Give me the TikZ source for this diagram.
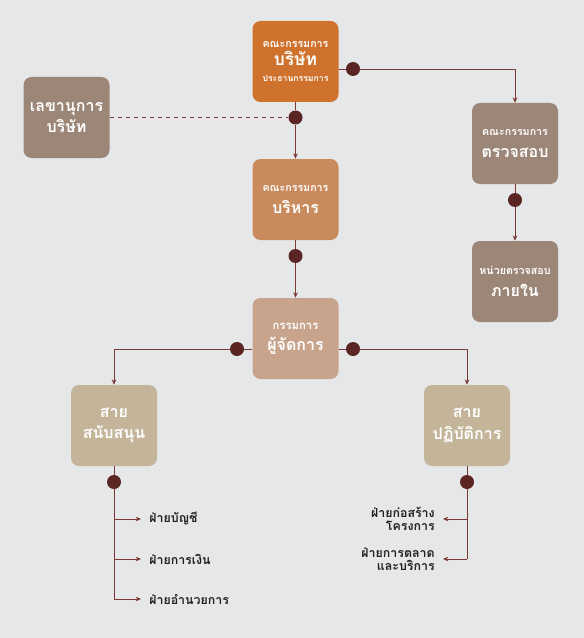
\documentclass[tikz,border=0pt]{standalone}
\usepackage{fontspec}
\newfontfamily\thaifont[Script=Thai]{Loma}
\usetikzlibrary{arrows.meta}
\definecolor{bgc}{HTML}{E6E7E8}
\definecolor{boardc}{HTML}{CF722E}
\definecolor{execc}{HTML}{C98B5E}
\definecolor{mdc}{HTML}{C9A48C}
\definecolor{auditc}{HTML}{9C8677}
\definecolor{linec}{HTML}{7A3A34}
\definecolor{dotc}{HTML}{5B2523}
\definecolor{tanc}{HTML}{C4B59A}
\definecolor{textc}{HTML}{231F20}
\begin{document}
\begin{tikzpicture}[x=0.75pt,y=-0.75pt,
  font=\thaifont\bfseries,
  box/.style={rounded corners=6pt,minimum width=64.5pt,minimum height=60.75pt,text=white,align=center,inner sep=1pt},
  big/.style={font=\thaifont\bfseries\fontsize{12}{16}\selectfont},
  dot/.style={circle,fill=dotc,minimum size=10.5pt,inner sep=0pt},
  line/.style={draw=linec,line width=0.7pt},
  arr/.style={line,-{Stealth[length=4pt,width=3.5pt]}},
  lbl/.style={text=textc,font=\thaifont\bfseries\fontsize{9.3}{10.5}\selectfont,inner xsep=6pt,inner ysep=0pt}]
\fill[bgc] (0,0) rectangle (584,638);
\useasboundingbox (0,0) rectangle (584,638);

\node[box,fill=boardc] (board) at (295.5,61.5) {{\fontsize{8}{10}\selectfont คณะกรรมการ}\\[1pt]{\fontsize{13}{15}\selectfont บริษัท}\\[0pt]{\fontsize{6.5}{8}\selectfont ประธานกรรมการ}};
\node[box,fill=auditc,big] (sec) at (66.5,117.5) {เลขานุการ\\บริษัท};
\node[box,fill=auditc] (audit) at (515,143.5) {{\fontsize{8}{10}\selectfont คณะกรรมการ}\\[4pt]{\fontsize{12}{14}\selectfont ตรวจสอบ}};
\node[box,fill=auditc] (inaudit) at (515,281.5) {{\fontsize{8}{10}\selectfont หน่วยตรวจสอบ}\\[4pt]{\fontsize{12}{14}\selectfont ภายใน}};
\node[box,fill=execc] (exec) at (295.5,199.5) {{\fontsize{8}{10}\selectfont คณะกรรมการ}\\[4pt]{\fontsize{12}{14}\selectfont บริหาร}};
\node[box,fill=mdc] (md) at (295.5,338.5) {{\fontsize{8.5}{10}\selectfont กรรมการ}\\[4pt]{\fontsize{12}{14}\selectfont ผู้จัดการ}};
\node[box,fill=tanc,big] (supp) at (114,425.5) {สาย\\สนับสนุน};
\node[box,fill=tanc,big] (oper) at (467,425.5) {สาย\\ปฏิบัติการ};

\node[dot] (d1) at (353,69) {};
\node[dot] (d2) at (295.5,117.5) {};
\node[dot] (d3) at (515,200) {};
\node[dot] (d4) at (295.5,256) {};
\node[dot] (d5) at (237,349) {};
\node[dot] (d6) at (353,349) {};
\node[dot] (d7) at (114,482) {};
\node[dot] (d8) at (467,482) {};

\coordinate (s1) at (114,519);
\coordinate (s2) at (114,559);
\coordinate (s3) at (114,599);
\coordinate (o1) at (467,519);
\coordinate (o2) at (467,559);

\node[lbl,anchor=west] (acc) at (141,519) {ฝ่ายบัญชี};
\node[lbl,anchor=west] (fin) at (141,559) {ฝ่ายการเงิน};
\node[lbl,anchor=west] (adm) at (141,599) {ฝ่ายอำนวยการ};
\node[lbl,anchor=east,align=right] (cons) at (443,519) {ฝ่ายก่อสร้าง\\[-1pt]โครงการ};
\node[lbl,anchor=east,align=right] (mkt) at (443,559) {ฝ่ายการตลาด\\[-1pt]และบริการ};

\draw[line] (board.east |- d1) -- (d1);
\draw[arr] (d1) -| (audit);
\draw[line] (board) -- (d2);
\draw[arr] (d2) -- (exec);
\draw[line,dashed] (sec) -- (d2);
\draw[line] (audit) -- (d3);
\draw[arr] (d3) -- (inaudit);
\draw[line] (exec) -- (d4);
\draw[arr] (d4) -- (md);
\draw[line] (md.west |- d5) -- (d5);
\draw[arr] (d5) -| (supp);
\draw[line] (md.east |- d6) -- (d6);
\draw[arr] (d6) -| (oper);
\draw[line] (supp) -- (d7);
\draw[line] (d7) -- (s3);
\draw[arr] (s1) -- (acc);
\draw[arr] (s2) -- (fin);
\draw[arr] (s3) -- (adm);
\draw[line] (oper) -- (d8);
\draw[line] (d8) -- (o2);
\draw[arr] (o1) -- (cons.east |- o1);
\draw[arr] (o2) -- (mkt.east |- o2);
\end{tikzpicture}
\end{document}
